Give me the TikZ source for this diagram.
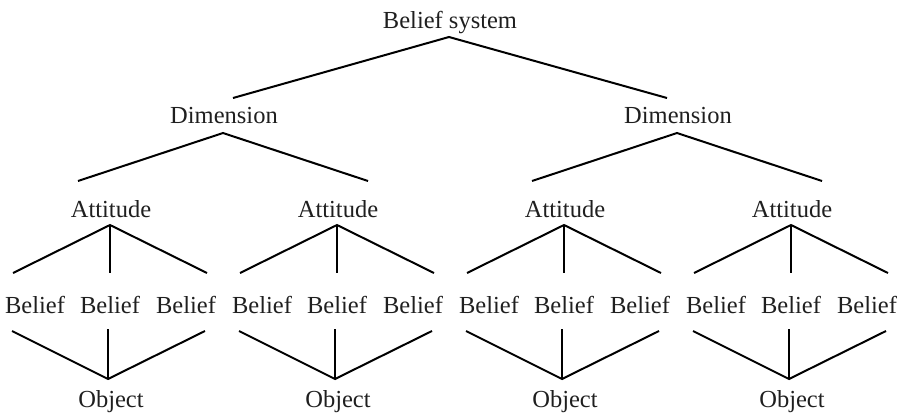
\documentclass[tikz,border=0pt]{standalone}
\usepackage{fontspec}
\setmainfont{Liberation Serif}
\begin{document}
\begin{tikzpicture}[x=1pt,y=-1pt,
  lbl/.style={inner sep=0pt, anchor=base, font=\fontsize{24.5}{28}\selectfont, text=black!88},
  edge/.style={line width=2pt, line join=miter}]
\useasboundingbox (0,0) rectangle (904,415);

% top level
\node[lbl] (root) at (450,28) {Belief system};
\coordinate (rootA) at (449,37);
\coordinate (rootL) at (233,98);
\coordinate (rootR) at (667,98);
\draw[edge] (rootL) -- (rootA) -- (rootR);

% dimensions
\foreach \d/\x in {L/224,R/678}{
  \node[lbl] (dim\d) at (\x,123) {Dimension};
  \coordinate (dim\d A) at (\x-1,133);
  \coordinate (dim\d l) at (\x-146,181);
  \coordinate (dim\d r) at (\x+144,181);
  \draw[edge] (dim\d l) -- (dim\d A) -- (dim\d r);
}

% attitude groups: attitude, three beliefs, object
\foreach \g/\a in {1/110,2/337,3/564,4/791}{
  \node[lbl] (att\g) at (\a+1,217) {Attitude};
  \coordinate (att\g A) at (\a,225);
  \coordinate (att\g l) at (\a-97,273);
  \coordinate (att\g m) at (\a,273);
  \coordinate (att\g r) at (\a+97,273);
  \draw[edge] (att\g l) -- (att\g A) -- (att\g r);
  \draw[edge] (att\g A) -- (att\g m);

  \node[lbl] (bel\g a) at (\a-75,313) {Belief};
  \node[lbl] (bel\g b) at (\a,313) {Belief};
  \node[lbl] (bel\g c) at (\a+76,313) {Belief};

  \node[lbl] (obj\g) at (\a+1,407) {Object};
  \coordinate (obj\g A) at (\a-2,379);
  \coordinate (obj\g l) at (\a-98,331);
  \coordinate (obj\g m) at (\a-2,329);
  \coordinate (obj\g r) at (\a+95,331);
  \draw[edge] (obj\g l) -- (obj\g A) -- (obj\g r);
  \draw[edge] (obj\g m) -- (obj\g A);
}
\end{tikzpicture}
\end{document}
